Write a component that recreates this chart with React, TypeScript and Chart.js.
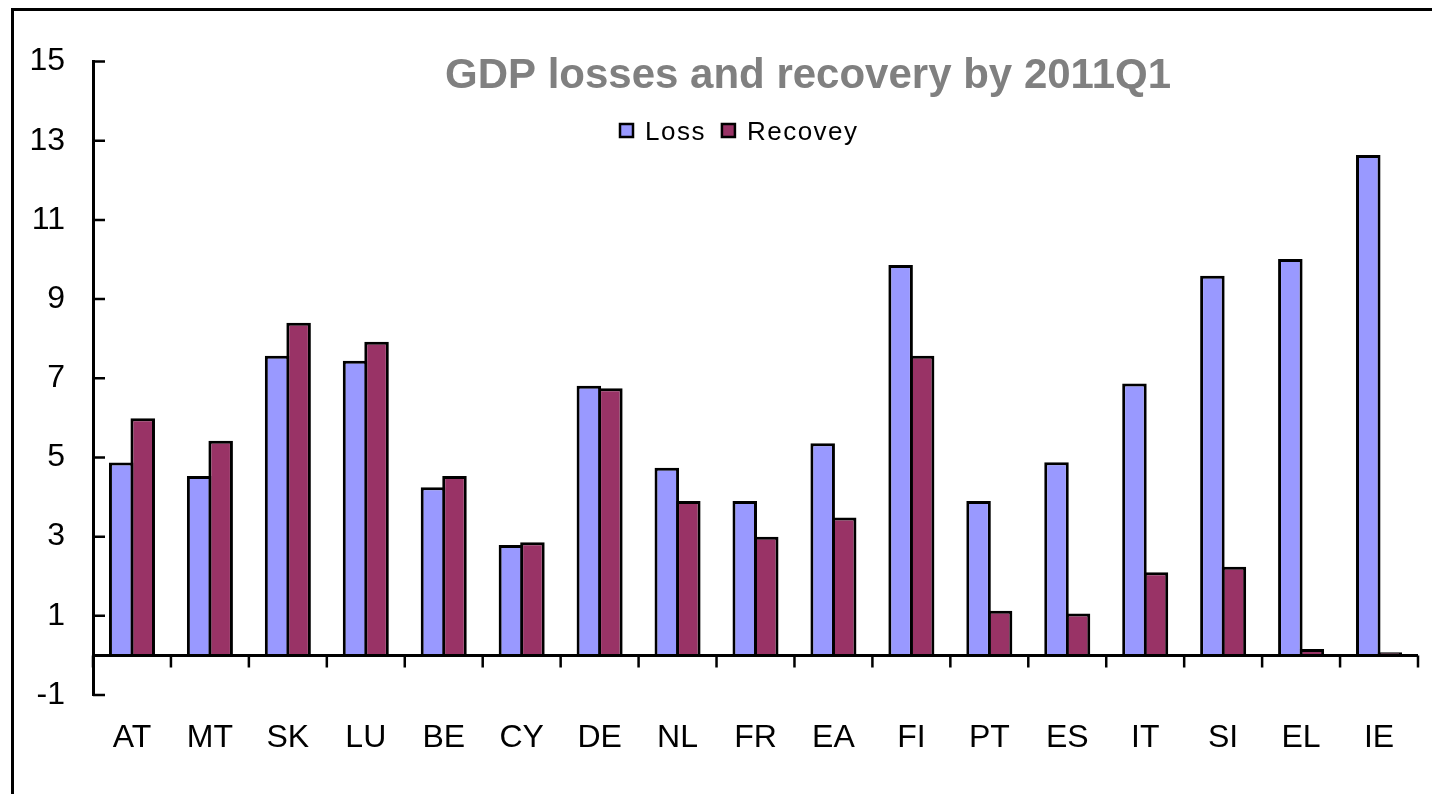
import React, { useEffect, useRef } from 'react';
import { Chart, registerables } from 'chart.js';

Chart.register(...registerables);

const categories = ['AT', 'MT', 'SK', 'LU', 'BE', 'CY', 'DE', 'NL', 'FR', 'EA', 'FI', 'PT', 'ES', 'IT', 'SI', 'EL', 'IE'];
const lossValues = [4.87, 4.53, 7.57, 7.44, 4.25, 2.79, 6.81, 4.74, 3.9, 5.36, 9.86, 3.9, 4.88, 6.87, 9.59, 10.01, 12.64];
const recoveryValues = [5.99, 5.42, 8.4, 7.92, 4.53, 2.86, 6.75, 3.9, 3.0, 3.48, 7.57, 1.13, 1.06, 2.1, 2.24, 0.16, 0.08];
const yTickValues = [-1, 1, 3, 5, 7, 9, 11, 13, 15];
const seriesNames = ['Loss', 'Recovey'];
const titleText = 'GDP losses and recovery by 2011Q1';

const FONT = '"Liberation Sans", Arial, Helvetica, sans-serif';
const LOSS_COLOR = '#9999FF';
const REC_COLOR = '#993366';

const decorPlugin = {
  id: 'decor',
  beforeDraw(chart: any) {
    const ctx = chart.ctx;
    ctx.save();
    ctx.fillStyle = '#ffffff';
    ctx.fillRect(0, 0, chart.width, chart.height);
    ctx.fillStyle = '#000000';
    ctx.fillRect(11, 8, 3, chart.height);
    ctx.fillRect(11, 8, chart.width, 3);
    ctx.restore();
  },
  afterDatasetsDraw(chart: any) {
    const { ctx, chartArea, scales } = chart;
    const xs = scales.x;
    const ys = scales.y;
    const y0 = ys.getPixelForValue(0);
    const n = categories.length;
    const w = (xs.right - xs.left) / n;
    ctx.save();
    ctx.strokeStyle = '#000';
    ctx.lineWidth = 3;
    ctx.beginPath();
    ctx.moveTo(chartArea.left, y0);
    ctx.lineTo(chartArea.right, y0);
    ctx.stroke();
    ctx.lineWidth = 2.5;
    ctx.beginPath();
    for (let i = 0; i <= n; i++) {
      const px = xs.getPixelForValue(0) - w / 2 + i * w;
      ctx.moveTo(px, y0);
      ctx.lineTo(px, y0 + 12);
    }
    for (const v of yTickValues) {
      const py = ys.getPixelForValue(v);
      ctx.moveTo(chartArea.left, py);
      ctx.lineTo(chartArea.left + 12, py);
    }
    ctx.stroke();
    ctx.restore();
  },
  afterDraw(chart: any) {
    const ctx = chart.ctx;
    ctx.save();
    // title
    ctx.font = `bold 42px ${FONT}`;
    ctx.fillStyle = '#808080';
    ctx.textAlign = 'center';
    ctx.textBaseline = 'alphabetic';
    ctx.fillText(titleText, 808, 88);
    // legend
    const colors = [LOSS_COLOR, REC_COLOR];
    ctx.font = `26px ${FONT}`;
    try { (ctx as any).letterSpacing = '1.5px'; } catch (e) {}
    ctx.textAlign = 'left';
    ctx.fillStyle = '#000';
    let x = 620;
    const boxTop = 124;
    for (let i = 0; i < seriesNames.length; i++) {
      ctx.fillStyle = colors[i];
      ctx.fillRect(x, boxTop, 13, 13);
      ctx.strokeStyle = '#000';
      ctx.lineWidth = 2.5;
      ctx.strokeRect(x, boxTop, 13, 13);
      ctx.fillStyle = '#000';
      ctx.fillText(seriesNames[i], x + 25, 140);
      x += 25 + ctx.measureText(seriesNames[i]).width + 16;
    }
    ctx.restore();
  },
};

export default function App() {
  const canvasRef = useRef<HTMLCanvasElement | null>(null);

  useEffect(() => {
    const canvas = canvasRef.current;
    if (!canvas) return;
    Chart.defaults.font.family = FONT;
    Chart.defaults.color = '#000';
    const chart = new Chart(canvas, {
      type: 'bar',
      data: {
        labels: categories,
        datasets: [
          {
            label: seriesNames[0],
            data: lossValues,
            backgroundColor: LOSS_COLOR,
            borderColor: '#000',
            borderWidth: 3,
            borderSkipped: 'start',
            barPercentage: 1.14,
            categoryPercentage: 0.552,
          },
          {
            label: seriesNames[1],
            data: recoveryValues,
            backgroundColor: REC_COLOR,
            borderColor: '#000',
            borderWidth: 3,
            borderSkipped: 'start',
            barPercentage: 1.14,
            categoryPercentage: 0.552,
          },
        ],
      },
      options: {
        animation: false,
        responsive: false,
        maintainAspectRatio: false,
        layout: { padding: { top: 61.5, right: 14, bottom: 12.6, left: 0 } },
        plugins: {
          legend: { display: false },
          title: { display: false },
          tooltip: { enabled: false },
        },
        scales: {
          x: {
            grid: { display: false, drawTicks: false },
            border: { display: false },
            ticks: { font: { size: 32 }, color: '#000', padding: 24, maxRotation: 0, autoSkip: false },
          },
          y: {
            min: -1,
            max: 15,
            grid: { display: false, drawTicks: false },
            border: { display: true, color: '#000', width: 3 },
            ticks: { stepSize: 2, font: { size: 32 }, color: '#000', padding: 28 },
            afterFit: (s: any) => { s.width = 93; },
          },
        },
      },
      plugins: [decorPlugin],
    });
    return () => chart.destroy();
  }, []);

  return (
    <div style={{ position: 'absolute', left: 0, top: 0, width: 1432, height: 794, overflow: 'hidden', background: '#fff' }}>
      <canvas ref={canvasRef} width={1432} height={794} style={{ display: 'block', width: 1432, height: 794 }} />
    </div>
  );
}
